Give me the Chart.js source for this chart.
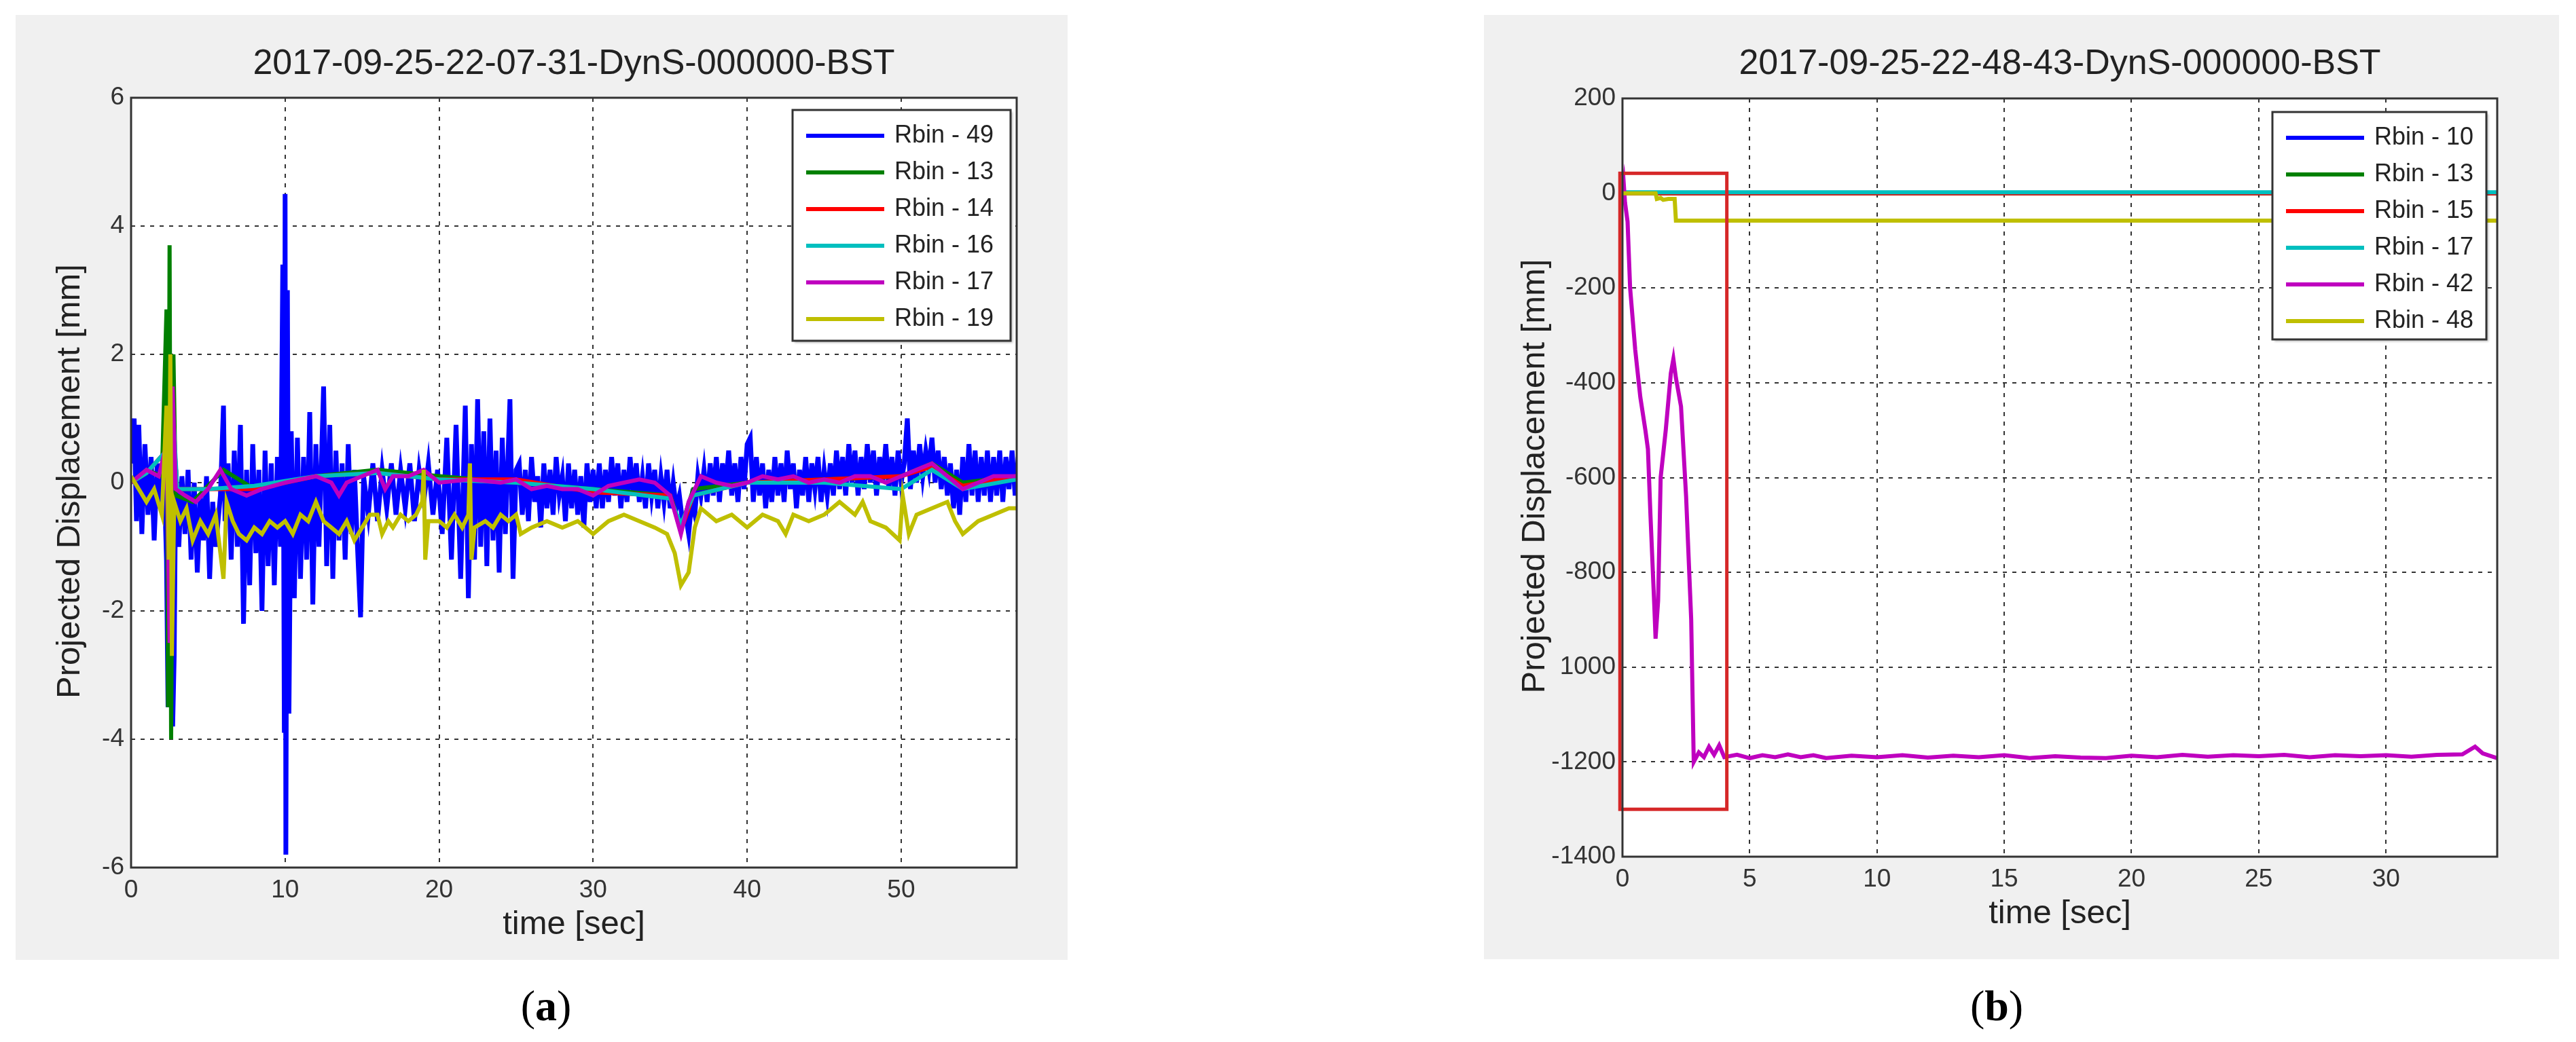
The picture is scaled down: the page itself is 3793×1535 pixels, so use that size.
<!DOCTYPE html>
<html><head><meta charset="utf-8">
<script src="https://cdn.jsdelivr.net/npm/chart.js@4"></script>
<style>
body{margin:0;width:3793px;height:1535px;background:#fff;position:relative;overflow:hidden;font-family:"Liberation Sans",Arial,sans-serif}
.p{position:absolute;background:#f0f0f0}
.lab{position:absolute;font-family:"Liberation Serif",serif;font-size:64px;transform:translateX(-50%);top:1445px}
</style></head><body>
<div class="p" style="left:23px;top:22px;width:1549px;height:1392px"><canvas id="ca"></canvas></div>
<div class="p" style="left:2185px;top:22px;width:1583px;height:1391px"><canvas id="cb"></canvas></div>
<div class="lab" style="left:804px">(<b>a</b>)</div>
<div class="lab" style="left:2940px">(<b>b</b>)</div>
<script>
// ---------- Panel (a) data ----------
const titleA = "2017-09-25-22-07-31-DynS-000000-BST";
const namesA = ["Rbin - 49","Rbin - 13","Rbin - 14","Rbin - 16","Rbin - 17","Rbin - 19"];
const colorsA = ["#0000ff","#008000","#ff0000","#00bfbf","#bf00bf","#bfbf00"];
const yTicksA = [-6,-4,-2,0,2,4,6];
const xTicksA = [0,10,20,30,40,50];
const rbin49Head = [[0,0.3],[0.2,1.0],[0.35,-0.6],[0.5,0.9],[0.7,-0.8],[0.9,0.6],[1.1,-0.5],[1.3,0.4],[1.5,-0.9],[1.7,0.3],[1.9,-0.4],[2.1,0.5],[2.3,-1.2],[2.4,-3.5],[2.55,1.0],[2.7,-3.8],[2.8,-2.7],[2.9,0.2],[3.1,-1.0],[3.3,0.1],[3.5,-0.8],[3.7,0.2],[3.9,-1.2],[4.1,0],[4.3,-1.4],[4.5,-0.2],[4.7,-0.9],[4.9,0.1],[5.1,-1.5],[5.3,-0.3],[5.5,-1.0],[5.8,-0.2],[6.0,1.2],[6.1,-0.6],[6.3,0.3],[6.5,-1.2],[6.7,0.5],[6.9,-1.0],[7.1,0.9],[7.3,-2.2],[7.5,0.2],[7.7,-1.6],[7.9,0.6],[8.1,-1.1],[8.3,0.2],[8.5,-2.0],[8.7,0.5],[8.9,-1.3],[9.1,0.3],[9.3,-1.6],[9.5,0.4],[9.7,-1.0],[9.85,3.4],[9.95,-3.9],[10.0,4.5],[10.05,-5.8],[10.15,3.0],[10.25,-3.6],[10.4,0.8],[10.6,-1.8],[10.8,0.7],[11.0,-1.5],[11.2,0.4],[11.4,-1.2],[11.6,1.1],[11.8,-1.9],[12.0,0.6],[12.2,-1.0],[12.5,1.5],[12.7,-1.3],[12.9,0.9],[13.1,-1.5],[13.3,0.5],[13.5,-0.9],[13.7,0.3],[13.9,-1.2],[14.1,0.6],[14.3,-0.8],[14.5,0.2],[14.7,-1.0],[14.9,-2.1],[15.1,0.1],[15.4,-0.5],[15.7,0.3],[16.0,-0.6],[16.3,0.2],[16.6,-0.4],[16.9,0.3],[17.2,-0.5],[17.5,0.2],[17.8,-0.4],[18.1,0.3],[18.4,-0.6],[18.7,0.2],[19.0,-0.3],[19.3,0.3],[19.6,-0.5],[19.9,0.2],[20.2,-0.8],[20.5,0.7],[20.8,-1.2],[21.1,0.9],[21.4,-1.5],[21.7,1.2],[21.9,-1.8],[22.1,0.6],[22.3,-1.2],[22.5,1.3],[22.7,-1.0],[22.9,0.8],[23.1,-1.3],[23.3,1.0],[23.5,-0.9],[23.7,0.5],[23.9,-1.4],[24.1,0.7],[24.3,-0.8],[24.6,1.3],[24.8,-1.5],[25.0,0.2]];
// Rbin-49 from 25.2 s onward, one reading every 0.2 s
const rbin49TailStart = 25.2, rbin49TailStep = 0.2;
const rbin49Tail = [0.3,-0.5,0.2,-0.6,0.4,-0.3,0.1,-0.7,0.3,-0.4,0.2,-0.5,0.4,-0.2,0.1,-0.6,0.3,-0.4,0.2,-0.5,0.1,-0.7,0.3,-0.3,0.2,-0.4,
 0.3,-0.4,0.2,-0.3,0.4,-0.2,0.3,-0.4,0.2,-0.3,0.4,-0.2,0.3,-0.3,0.1,-0.4,0.3,-0.2,0.2,-0.4,0.1,-0.3,0.2,-0.4,0.0,
 -0.4,-0.2,-0.6,-0.5,-0.8,-0.3,-0.5,0.1,-0.2,0.2,
 -0.3,0.3,-0.2,0.4,-0.3,0.3,-0.1,0.5,-0.2,0.3,-0.3,0.4,-0.1,0.6,0.7,
 -0.3,0.4,-0.2,0.3,-0.4,0.2,-0.3,0.4,-0.2,0.3,-0.3,0.5,-0.1,0.3,-0.4,0.2,-0.2,0.4,-0.3,0.3,-0.1,0.4,-0.3,0.2,-0.2,
 0.3,-0.2,0.5,-0.1,0.4,-0.2,0.6,0.0,0.5,-0.2,0.4,-0.1,0.6,0.0,0.5,-0.2,0.4,0.0,0.6,-0.1,0.4,-0.2,0.5,0.0,0.3,
 1.0,-0.1,0.5,0.0,0.6,0.1,0.5,0.2,0.7,0.0,0.5,-0.1,0.4,-0.2,0.3,-0.4,0.2,-0.5,0.4,-0.3,0.6,-0.2,0.5,-0.3,0.4,-0.2,0.5,-0.3,0.4,-0.2,0.5,-0.3,0.4,-0.1,0.5,-0.2,0.4];
const rbin49 = rbin49Head.concat(rbin49Tail.map((v,i)=>[rbin49TailStart+i*rbin49TailStep,v]));
const rbin13 = [[0,0],[1,0.2],[2.0,0.1],[2.3,2.7],[2.4,-3.5],[2.5,3.7],[2.6,-4.0],[2.75,2.0],[2.9,-0.2],[4,-0.3],[6,0.2],[8,-0.1],[12,0.1],[16,0.2],[20,0.1],[25,0.0],[30,-0.1],[35,-0.2],[35.7,-0.7],[36.5,-0.1],[40,0.0],[45,0.05],[50,0.1],[52,0.3],[54,0.0],[57.5,0.1]];
const rbin14 = [[0,0],[1,0.15],[2.3,0.5],[2.5,-1.5],[2.7,1.0],[3,-0.1],[5,-0.1],[8,-0.1],[12,0.1],[16,0.15],[20,0.05],[25,0.05],[30,-0.15],[35,-0.2],[35.7,-0.75],[36.5,-0.2],[40,0.0],[45,0.05],[50,0.1],[52,0.25],[54,-0.05],[57.5,0.1]];
const rbin16 = [[0,0],[1,0.15],[2.3,0.5],[2.5,-1.8],[2.7,1.2],[3,-0.1],[5,-0.1],[8,-0.05],[12,0.1],[16,0.15],[20,0.05],[25,0.0],[30,-0.1],[35,-0.25],[35.7,-0.65],[36.5,-0.2],[40,0.0],[45,0.0],[50,-0.1],[52,0.2],[54,-0.1],[57.5,0.05]];
const rbin17 = [[0,0],[1,0.2],[1.8,0.1],[2.3,0.6],[2.5,-2.5],[2.7,1.5],[2.9,-0.1],[3.5,-0.2],[4.2,-0.3],[5.0,-0.1],[5.8,0.2],[6.5,-0.1],[7.5,-0.2],[8.5,-0.1],[10,0.0],[11,0.05],[12,0.1],[13,0.0],[13.5,-0.2],[14,0.0],[15,0.1],[16,0.2],[16.5,-0.1],[17,0.1],[18,0.1],[19,0.2],[20,0.0],[22,0.05],[24,0.0],[25,0.05],[26,-0.1],[27,-0.05],[28,-0.1],[29,-0.1],[30,-0.2],[31,-0.05],[32,0.0],[33,0.05],[34,0.0],[35,-0.2],[35.7,-0.8],[36.2,-0.3],[37,0.1],[38,0.0],[39,-0.05],[40,0.0],[41,0.1],[42,0.05],[43,0.1],[44,0.0],[45,0.05],[46,0.0],[47,0.1],[48,0.1],[49,0.0],[50,0.1],[51,0.2],[52,0.3],[53,0.1],[54,-0.1],[55,0.0],[56,0.1],[57.5,0.1]];
const rbin19 = [[0,0.1],[0.5,-0.1],[1.0,-0.3],[1.5,-0.1],[2.0,-0.5],[2.3,1.2],[2.45,-1.2],[2.55,2.0],[2.65,-2.7],[2.8,-0.3],[3.2,-0.6],[3.6,-0.4],[4.0,-0.9],[4.5,-0.6],[5.0,-0.8],[5.5,-0.5],[6.0,-1.5],[6.2,-0.3],[6.6,-0.6],[7.0,-0.8],[7.5,-0.9],[8.0,-0.7],[8.5,-0.8],[9,-0.6],[9.5,-0.7],[10,-0.6],[10.5,-0.8],[11,-0.5],[11.5,-0.6],[12,-0.3],[12.5,-0.6],[13,-0.7],[13.5,-0.8],[14,-0.6],[14.5,-0.9],[15,-0.7],[15.5,-0.5],[16,-0.5],[16.3,-0.8],[16.7,-0.6],[17,-0.7],[17.5,-0.5],[18,-0.6],[18.5,-0.5],[18.9,-0.3],[19.0,0.2],[19.1,-1.2],[19.3,-0.6],[20,-0.6],[20.5,-0.7],[21,-0.5],[21.5,-0.7],[21.9,-0.5],[22.0,0.3],[22.1,-1.2],[22.3,-0.7],[23,-0.6],[23.5,-0.7],[24,-0.5],[24.5,-0.6],[25,-0.5],[25.3,-0.8],[26,-0.7],[27,-0.6],[28,-0.7],[29,-0.6],[30,-0.8],[31,-0.6],[32,-0.5],[33,-0.6],[34,-0.7],[34.8,-0.8],[35.3,-1.1],[35.7,-1.6],[36.2,-1.4],[36.6,-0.7],[37,-0.4],[38,-0.6],[39,-0.5],[40,-0.7],[41,-0.5],[42,-0.6],[42.5,-0.8],[43,-0.5],[44,-0.6],[45,-0.5],[46,-0.3],[47,-0.5],[47.5,-0.3],[48,-0.6],[49,-0.7],[49.9,-0.9],[50.1,-0.2],[50.5,-0.8],[51,-0.5],[52,-0.4],[53,-0.3],[53.5,-0.6],[54,-0.8],[55,-0.6],[56,-0.5],[57,-0.4],[57.5,-0.4]];
const seriesA = [rbin49,rbin13,rbin14,rbin16,rbin17,rbin19];

// ---------- Panel (b) data ----------
const titleB = "2017-09-25-22-48-43-DynS-000000-BST";
const namesB = ["Rbin - 10","Rbin - 13","Rbin - 15","Rbin - 17","Rbin - 42","Rbin - 48"];
const colorsB = ["#0000ff","#008000","#ff0000","#00bfbf","#bf00bf","#bfbf00"];
const yTicksB = [-1400,-1200,-1000,-800,-600,-400,-200,0,200];
const yTickLabelsB = ["-1400","-1200","1000","-800","-600","-400","-200","0","200"];
const xTicksB = [0,5,10,15,20,25,30];
const rbin10 = [[0,0],[34.37,0]];
const rbin13b = [[0,0],[34.37,0]];
const rbin15 = [[0,0],[34.37,0]];
const rbin17b = [[0,2],[34.37,2]];
const rbin42 = [[0,0],[0.05,20],[0.1,-20],[0.2,-60],[0.3,-200],[0.5,-330],[0.7,-430],[0.9,-500],[1.0,-540],[1.1,-680],[1.25,-870],[1.3,-940],[1.4,-860],[1.5,-600],[1.7,-500],[1.9,-380],[2.0,-350],[2.1,-390],[2.3,-450],[2.5,-640],[2.7,-900],[2.8,-1200],[3.0,-1180],[3.2,-1190],[3.4,-1168],[3.6,-1185],[3.8,-1165],[4.0,-1190],[4.5,-1185],[5,-1192],[5.5,-1186],[6,-1190],[6.5,-1184],[7,-1190],[7.5,-1186],[8,-1192],[9,-1187],[10,-1190],[11,-1186],[12,-1191],[13,-1187],[14,-1190],[15,-1186],[16,-1192],[17,-1188],[18,-1191],[19,-1192],[20,-1187],[21,-1190],[22,-1185],[23,-1189],[24,-1186],[25,-1188],[26,-1185],[27,-1190],[28,-1186],[29,-1188],[30,-1186],[31,-1189],[32,-1185],[33,-1184],[33.5,-1168],[33.8,-1182],[34.37,-1192]];
const rbin48 = [[0,0],[1.3,0],[1.35,-12],[1.5,-10],[1.6,-14],[1.8,-12],[2.05,-12],[2.1,-58],[34.37,-58]];
const seriesB = [rbin10,rbin13b,rbin15,rbin17b,rbin42,rbin48];
const boxB = {x0:-0.1, x1:4.1, y0:42, y1:-1300};

const FONT = '"Liberation Sans", Arial, sans-serif';

function framePlugin(cfg){
  return {id:'frame',
    beforeDraw(c){const a=c.chartArea,x=c.ctx;x.save();x.fillStyle='#fff';x.fillRect(a.left,a.top,a.right-a.left,a.bottom-a.top);x.restore();},
    afterDraw(c){
      const a=c.chartArea,x=c.ctx;x.save();
      if(cfg.box){const xs=c.scales.x,ys=c.scales.y;x.strokeStyle='#d62728';x.lineWidth=5;
        const l=xs.getPixelForValue(cfg.box.x0),r=xs.getPixelForValue(cfg.box.x1),t=ys.getPixelForValue(cfg.box.y0),b=ys.getPixelForValue(cfg.box.y1);
        x.strokeRect(l,t,r-l,b-t);}
      x.strokeStyle='#333';x.lineWidth=3;x.strokeRect(a.left,a.top,a.right-a.left,a.bottom-a.top);
      x.fillStyle='#222';x.textAlign='center';x.textBaseline='middle';
      x.font='52px '+FONT;x.fillText(cfg.title,(a.left+a.right)/2,73);
      x.font='49px '+FONT;x.fillText('time [sec]',(a.left+a.right)/2,a.bottom+84);
      x.save();x.translate(cfg.ytx,(a.top+a.bottom)/2-2);x.rotate(-Math.PI/2);x.fillText('Projected Displacement [mm]',0,0);x.restore();
      const L=cfg.leg;x.fillStyle='#fff';x.shadowColor='rgba(0,0,0,0.25)';x.shadowOffsetX=3;x.shadowOffsetY=3;x.shadowBlur=3;
      x.fillRect(L.x,L.y,L.w,L.h);x.shadowColor='transparent';
      x.strokeStyle='#333';x.lineWidth=3;x.strokeRect(L.x,L.y,L.w,L.h);
      x.font='36px '+FONT;x.textAlign='left';
      cfg.names.forEach((n,i)=>{const yy=L.y+38+i*54;x.strokeStyle=cfg.colors[i];x.lineWidth=6;
        x.beginPath();x.moveTo(L.x+20,yy);x.lineTo(L.x+135,yy);x.stroke();x.fillStyle='#222';x.fillText(n,L.x+150,yy);});
      x.restore();}
  };
}

function make(id,series,names,colors,xmax,xticks,ymin,ymax,yticks,ylabels,pad,yw,xh,cfg){
  new Chart(document.getElementById(id),{
    type:'line',
    data:{datasets:series.map((s,i)=>({label:names[i],data:s.map(p=>({x:p[0],y:p[1]})),borderColor:colors[i],borderWidth:(id==='ca'&&i===0)?7:6,pointRadius:0,tension:0,fill:false,order:(id==='ca'&&i===0)?7:(6-i)}))},
    options:{responsive:true,maintainAspectRatio:false,animation:false,devicePixelRatio:1,
      layout:{padding:pad},
      plugins:{legend:{display:false},tooltip:{enabled:false}},
      scales:{
        x:{type:'linear',min:0,max:xmax,afterFit(s){s.height=xh;},
          afterBuildTicks(s){s.ticks=xticks.map(v=>({value:v}));},
          ticks:{font:{size:37,family:FONT},color:'#333',padding:12,maxRotation:0},
          grid:{color:'#333',lineWidth:2,drawTicks:false},border:{display:false,dash:[6,8]}},
        y:{type:'linear',min:ymin,max:ymax,afterFit(s){s.width=yw;},
          afterBuildTicks(s){s.ticks=yticks.map(v=>({value:v}));},
          ticks:{font:{size:37,family:FONT},color:'#333',padding:10,callback:(v)=>{const k=yticks.indexOf(v);return ylabels?ylabels[k]:String(v);}},
          grid:{color:'#333',lineWidth:2,drawTicks:false},border:{display:false,dash:[6,8]}}
      }},
    plugins:[framePlugin(cfg)]
  });
}
make('ca',seriesA,namesA,colorsA,57.5,xTicksA,-6,6,yTicksA,null,{left:0,top:122,right:75,bottom:0},170,136,
  {title:titleA,names:namesA,colors:colorsA,ytx:80,leg:{x:1144,y:140,w:321,h:340}});
make('cb',seriesB,namesB,colorsB,34.37,xTicksB,-1400,200,yTicksB,yTickLabelsB,{left:0,top:123,right:91,bottom:0},204,151,
  {title:titleB,names:namesB,colors:colorsB,ytx:75,box:boxB,leg:{x:1161,y:143,w:315,h:335}});
</script></body></html>
